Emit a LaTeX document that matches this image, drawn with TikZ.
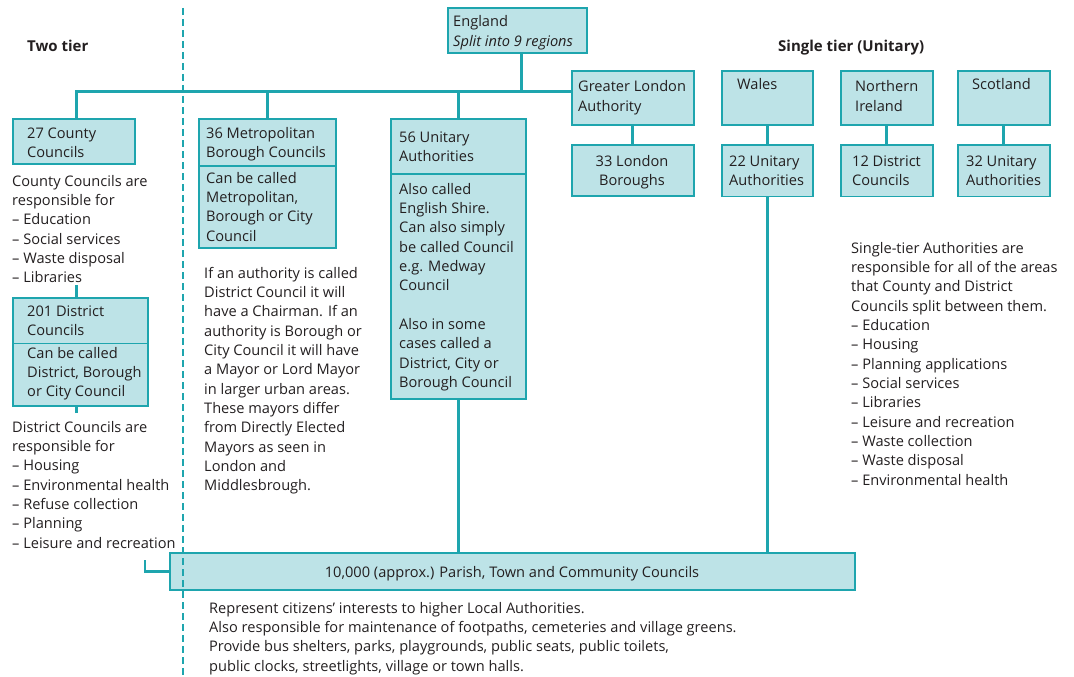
\documentclass[tikz,border=0pt]{standalone}
\usepackage{fontspec}
\setmainfont{Open Sans}
\usetikzlibrary{calc}
\definecolor{tealline}{HTML}{1EA5AE}
\definecolor{boxfill}{HTML}{BDE3E7}
\definecolor{ink}{HTML}{231F20}
\newcommand\mkbox[5]{\node[box,anchor=north west,minimum width=#4,minimum height=#5] (#1) at (#2,#3) {};}
\newcommand\ml[1]{\begin{tabular}[t]{@{}l@{}}#1\end{tabular}}
\newcommand\mlc[1]{\begin{tabular}[t]{@{}c@{}}#1\end{tabular}}
\begin{document}
\begin{tikzpicture}[x=1pt,y=-1pt,
  box/.style={draw=tealline, fill=boxfill, line width=1.8pt, inner sep=0pt},
  conn/.style={draw=tealline, line width=3pt},
  txt/.style={anchor=base west, inner sep=0pt, text=ink, font=\fontsize{14.6}{19.35}\selectfont},
  ctxt/.style={anchor=base, inner sep=0pt, text=ink, font=\fontsize{14.6}{19.35}\selectfont},
  head/.style={anchor=base west, inner sep=0pt, text=ink, font=\fontsize{15}{19.35}\selectfont\bfseries}
]
\useasboundingbox (0,0) rectangle (1074,677);
\coordinate (busy) at (0,92);
\coordinate (cctop) at (76,285);
\coordinate (dbelow) at (76,413);
\coordinate (brk) at (145,560);

% box outlines first (for anchors)
\mkbox{england}{447}{7}{139}{45}
\mkbox{county}{12}{118}{122}{45}
\mkbox{metroH}{198}{118}{137}{47}
\mkbox{metroB}{198}{165}{137}{82}
\mkbox{unitH}{390}{118}{135}{55}
\mkbox{unitB}{390}{173}{135}{225}
\mkbox{gla}{571}{70.5}{122}{53.5}
\mkbox{london}{571}{144}{122}{51}
\mkbox{wales}{721}{70.5}{91}{53.5}
\mkbox{wua}{721}{144}{91}{51.5}
\mkbox{ni}{840}{70.5}{92}{53.5}
\mkbox{nidc}{840}{144}{92}{51.5}
\mkbox{scot}{957}{70.5}{92}{53.5}
\mkbox{sua}{957}{144}{92}{51.5}
\mkbox{distH}{12}{297}{135}{45.5}
\mkbox{distB}{12}{342.5}{135}{62.5}
\mkbox{parish}{169}{552}{685}{37}

\coordinate (engdrop) at ($(england.south)+(4,0)$);
\coordinate (ccdrop) at ($(county.north)+(3,0)$);

% connectors
\draw[conn] (ccdrop) |- (busy -| gla.west);
\draw[conn] (metroH.north) -- (metroH.north |- busy);
\draw[conn] (unitH.north) -- (unitH.north |- busy);
\draw[conn] (engdrop) -- (engdrop |- busy);
\draw[conn] (gla.south) -- (london.north);
\draw[conn] (wales.south) -- (wua.north);
\draw[conn] (ni.south) -- (nidc.north);
\draw[conn] (scot.south) -- (sua.north);
\draw[conn] (unitB.south) -- (unitB.south |- parish.north);
\draw[conn] (wua.south) -- (wua.south |- parish.north);
\draw[conn] (cctop) -- (cctop |- distH.north);
\draw[conn] (dbelow) -- (dbelow |- distB.south);
\draw[conn, line width=2.5pt] (brk) |- (parish.west);

% boxes again on top of connector ends
\mkbox{england}{447}{7}{139}{45}
\mkbox{county}{12}{118}{122}{45}
\mkbox{metroH}{198}{118}{137}{47}
\mkbox{metroB}{198}{165}{137}{82}
\mkbox{unitH}{390}{118}{135}{55}
\mkbox{unitB}{390}{173}{135}{225}
\mkbox{gla}{571}{70.5}{122}{53.5}
\mkbox{london}{571}{144}{122}{51}
\mkbox{wales}{721}{70.5}{91}{53.5}
\mkbox{wua}{721}{144}{91}{51.5}
\mkbox{ni}{840}{70.5}{92}{53.5}
\mkbox{nidc}{840}{144}{92}{51.5}
\mkbox{scot}{957}{70.5}{92}{53.5}
\mkbox{sua}{957}{144}{92}{51.5}
\mkbox{distH}{12}{297}{135}{45.5}
\mkbox{distB}{12}{342.5}{135}{62.5}
\mkbox{parish}{169}{552}{685}{37}

% headings
\node[head] (twotier) at (27,52) {Two tier};
\node[head] (singletier) at (778,52) {Single tier (Unitary)};

% box texts
\node[txt] (tEngland) at (453,27) {\ml{England\\\itshape Split into 9 regions}};
\node[txt] (tCounty) at (27,138) {\ml{27 County\\Councils}};
\node[txt] (tMetroH) at (206,138) {\ml{36 Metropolitan\\Borough Councils}};
\node[txt] (tMetroB) at (206,183) {\ml{Can be called\\Metropolitan,\\Borough or City\\Council}};
\node[txt] (tUnitH) at (399,142) {\ml{56 Unitary\\Authorities}};
\node[txt] (tUnitB) at (399,194) {\ml{Also called\\English Shire.\\Can also simply\\be called Council\\e.g. Medway\\Council\\[19.35pt]Also in some\\cases called a\\District, City or\\Borough Council}};
\node[txt] (tGla) at (578,92) {\ml{Greater London\\Authority}};
\node[ctxt] (tLondon) at (632,166.5) {\mlc{33 London\\Boroughs}};
\node[txt] (tWales) at (737,89) {Wales};
\node[txt] (tNi) at (855,92) {\ml{Northern\\Ireland}};
\node[txt] (tScot) at (972,89) {Scotland};
\node[txt] (tWua) at (729,166.5) {\ml{22 Unitary\\Authorities}};
\node[txt] (tNidc) at (852,166.5) {\ml{12 District\\Councils}};
\node[txt] (tSua) at (966,166.5) {\ml{32 Unitary\\Authorities}};
\node[txt] (tDistH) at (27,316) {\ml{201 District\\Councils}};
\node[txt] (tDistB) at (27,358) {\ml{Can be called\\District, Borough\\or City Council}};
\node[ctxt] (tParish) at (512,577) {10,000 (approx.) Parish, Town and Community Councils};

% free texts
\node[txt] (ccResp) at (12,186) {\ml{County Councils are\\responsible for\\-- Education\\-- Social services\\-- Waste disposal\\-- Libraries}};
\node[txt] (dcResp) at (12,432) {\ml{District Councils are\\responsible for\\-- Housing\\-- Environmental health\\-- Refuse collection\\-- Planning\\-- Leisure and recreation}};
\node[txt] (metroNote) at (204,278) {\ml{If an authority is called\\District Council it will\\have a Chairman. If an\\authority is Borough or\\City Council it will have\\a Mayor or Lord Mayor\\in larger urban areas.\\These mayors differ\\from Directly Elected\\Mayors as seen in\\London and\\Middlesbrough.}};
\node[txt] (singleNote) at (851,253) {\ml{Single-tier Authorities are\\responsible for all of the areas\\that County and District\\Councils split between them.\\-- Education\\-- Housing\\-- Planning applications\\-- Social services\\-- Libraries\\-- Leisure and recreation\\-- Waste collection\\-- Waste disposal\\-- Environmental health}};
\node[txt] (parishNote) at (209,613) {\ml{Represent citizens’ interests to higher Local Authorities.\\Also responsible for maintenance of footpaths, cemeteries and village greens.\\Provide bus shelters, parks, playgrounds, public seats, public toilets,\\public clocks, streetlights, village or town halls.}};

% dashed divider
\coordinate (dtop) at (183,8);
\coordinate (dbot) at (183,677);
\draw[tealline, line width=1.3pt, dash pattern=on 7pt off 4pt] (dtop) -- (dbot);
\end{tikzpicture}
\end{document}
